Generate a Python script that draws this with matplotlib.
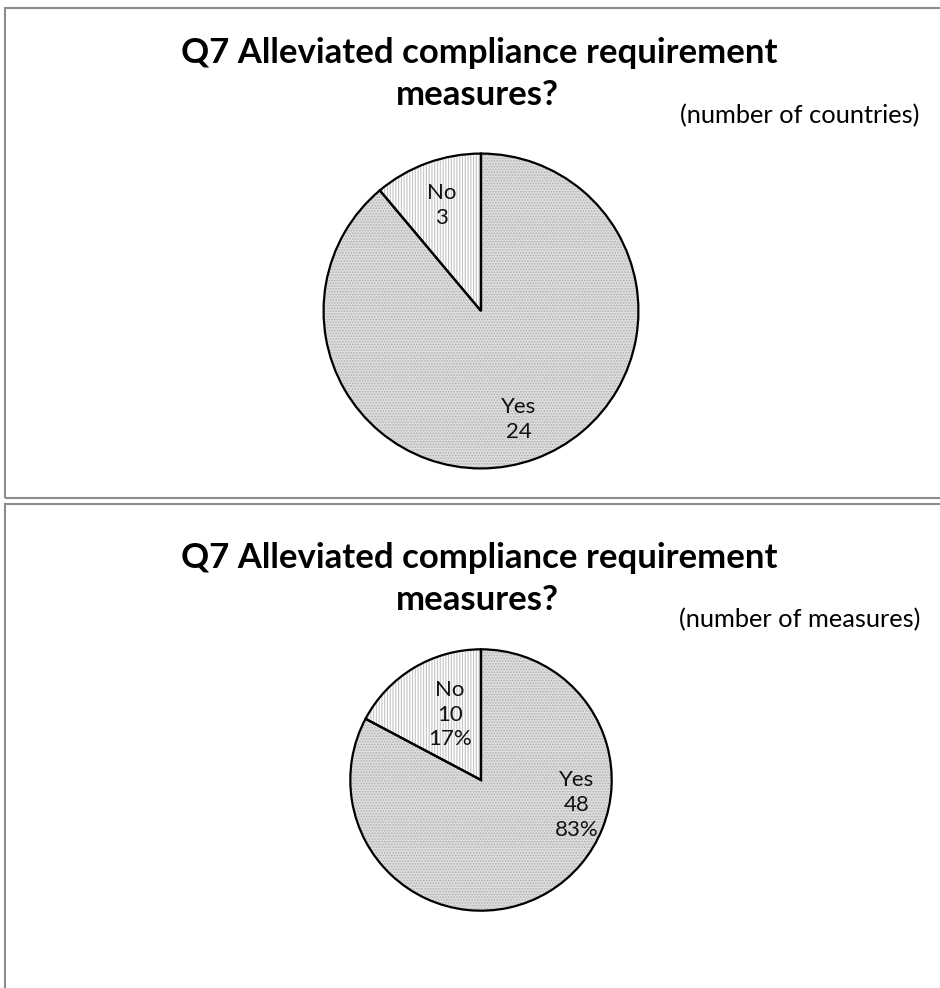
import matplotlib
matplotlib.use("Agg")
import matplotlib.pyplot as plt
from matplotlib.patches import Rectangle

plt.rcParams['font.family'] = ['Lato', 'DejaVu Sans']
plt.rcParams['hatch.linewidth'] = 0.8

title_lines = ["Q7 Alleviated compliance requirement", "measures?"]
categories = ["Yes", "No"]
countries = [24, 3]
measures = [48, 10]
pct_measures = ["83%", "17%"]
subtitles = ["(number of countries)", "(number of measures)"]

W, H = 940, 988
fig = plt.figure(figsize=(W/100, H/100), dpi=100)

def px_axes(cx, cy, r):
    return fig.add_axes([(cx - r)/W, (H - cy - r)/H, 2*r/W, 2*r/H])

# panel frames
for (x0, y0, x1, y1) in [(5, 8, 945, 498), (5, 504, 945, 995)]:
    fig.patches.append(Rectangle((x0/W, 1 - y1/H), (x1-x0)/W, (y1-y0)/H,
                                 transform=fig.transFigure, fill=False,
                                 edgecolor='#8c8c8c', linewidth=1.5))

def draw(cx, cy, r, values, labels, label_pos, t1_y, t2_y, sub, sub_y):
    ax = px_axes(cx, cy, r)
    # hatched fill layer
    fills, _ = ax.pie(values, startangle=90, counterclock=False, radius=1.0,
                      colors=['#dedede', '#ffffff'],
                      wedgeprops=dict(edgecolor='#b0b0b0', linewidth=0))
    fills[0].set_hatch('......')
    fills[1].set_hatch('||||||')
    fills[1].set_edgecolor('#c4c4c4')
    # outline layer with labels
    wedges, texts = ax.pie(values, labels=labels, startangle=90, counterclock=False,
                           radius=1.0, labeldistance=0.7,
                           wedgeprops=dict(edgecolor='black', linewidth=1.6,
                                           facecolor='none'),
                           textprops=dict(fontsize=16, ha='center', va='center',
                                          linespacing=1.3, color='#111111'))
    for t, p in zip(texts, label_pos):
        t.set_position(p)
    ax.set_xlim(-1.01, 1.01); ax.set_ylim(-1.01, 1.01)
    ax.set_aspect('equal')
    ax.axis('off')
    fig.text(479/W, 1 - t1_y/H, title_lines[0], ha='center', va='center',
             fontsize=25, fontweight='bold')
    fig.text(477/W, 1 - t2_y/H, title_lines[1], ha='center', va='center',
             fontsize=25, fontweight='bold')
    fig.text(800/W, 1 - sub_y/H, sub, ha='center', va='center', fontsize=18.3)

draw(481, 311, 159, countries, [f"{c}\n{v}" for c, v in zip(categories, countries)],
     [(0.24, -0.69), (-0.25, 0.67)], 53, 95, subtitles[0], 116)
draw(481, 780, 132, measures,
     [f"{c}\n{v}\n{p}" for c, v, p in zip(categories, measures, pct_measures)],
     [(0.73, -0.19), (-0.24, 0.50)], 558, 600, subtitles[1], 620)

fig.savefig("out.png", dpi=100, facecolor='white')
